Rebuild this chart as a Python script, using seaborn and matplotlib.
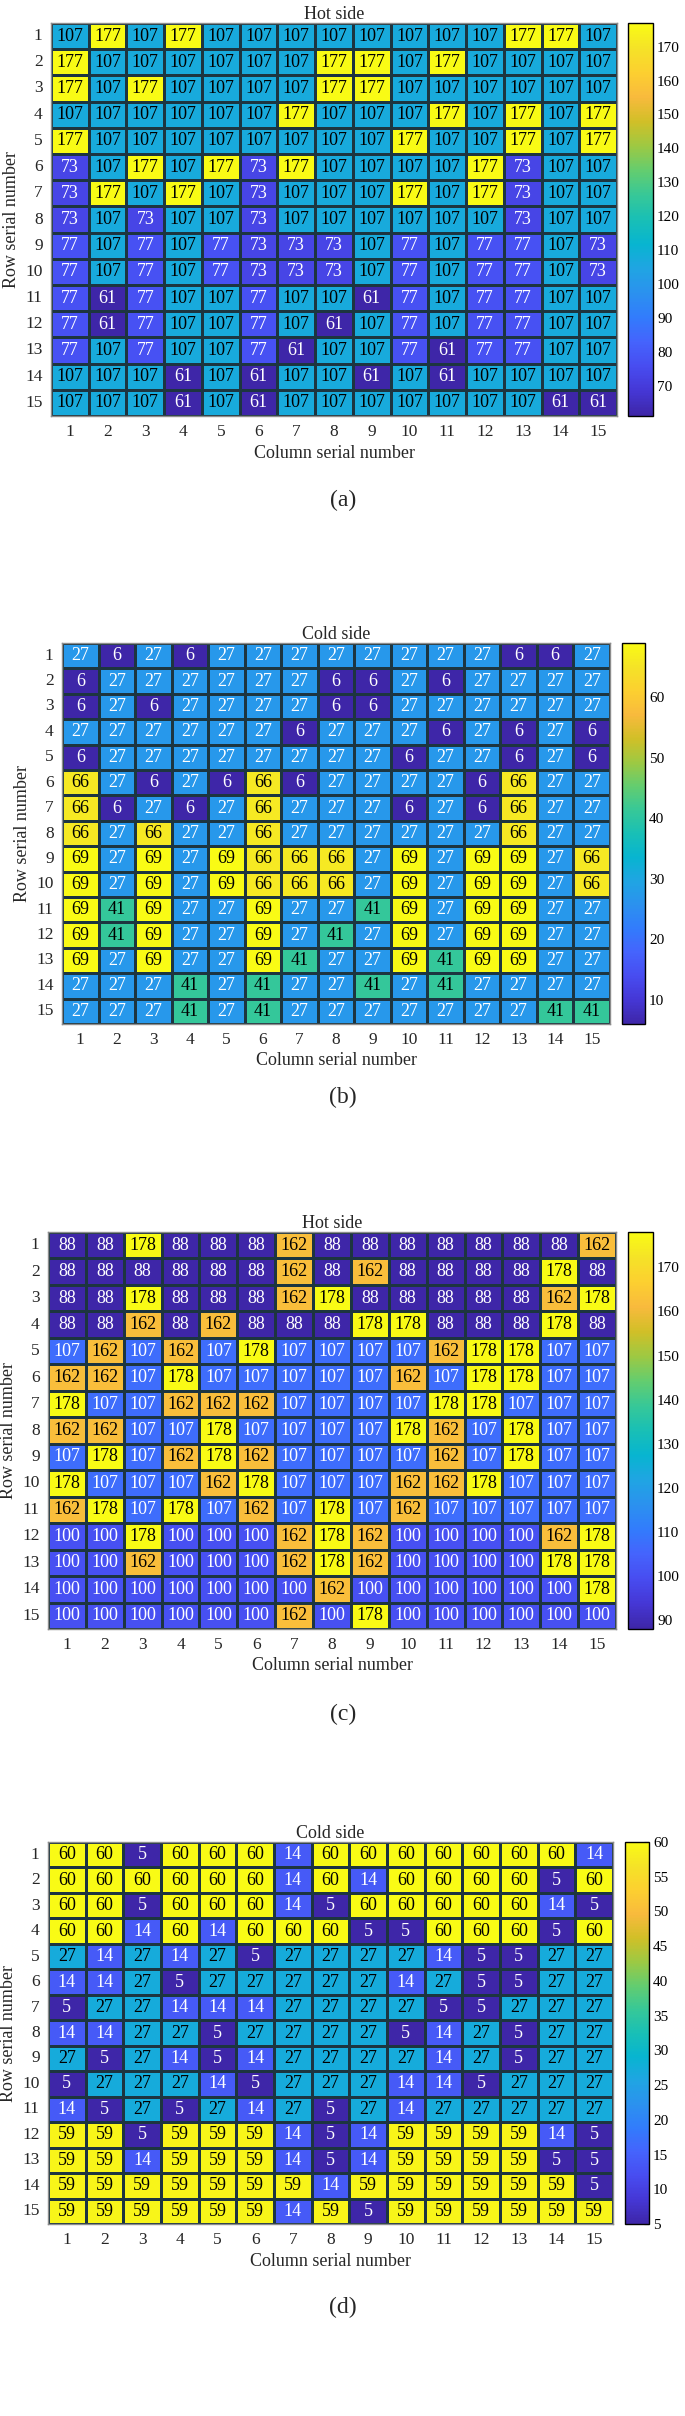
import numpy as np
import pandas as pd
import matplotlib
matplotlib.use('Agg')
import matplotlib.pyplot as plt
import seaborn as sns
from matplotlib.colors import LinearSegmentedColormap

# ---- data (rows 1..15, columns 1..15) ----
rows = list(range(1, 16))
cols = list(range(1, 16))

hot_a = [
    [107, 177, 107, 177, 107, 107, 107, 107, 107, 107, 107, 107, 177, 177, 107],
    [177, 107, 107, 107, 107, 107, 107, 177, 177, 107, 177, 107, 107, 107, 107],
    [177, 107, 177, 107, 107, 107, 107, 177, 177, 107, 107, 107, 107, 107, 107],
    [107, 107, 107, 107, 107, 107, 177, 107, 107, 107, 177, 107, 177, 107, 177],
    [177, 107, 107, 107, 107, 107, 107, 107, 107, 177, 107, 107, 177, 107, 177],
    [73, 107, 177, 107, 177, 73, 177, 107, 107, 107, 107, 177, 73, 107, 107],
    [73, 177, 107, 177, 107, 73, 107, 107, 107, 177, 107, 177, 73, 107, 107],
    [73, 107, 73, 107, 107, 73, 107, 107, 107, 107, 107, 107, 73, 107, 107],
    [77, 107, 77, 107, 77, 73, 73, 73, 107, 77, 107, 77, 77, 107, 73],
    [77, 107, 77, 107, 77, 73, 73, 73, 107, 77, 107, 77, 77, 107, 73],
    [77, 61, 77, 107, 107, 77, 107, 107, 61, 77, 107, 77, 77, 107, 107],
    [77, 61, 77, 107, 107, 77, 107, 61, 107, 77, 107, 77, 77, 107, 107],
    [77, 107, 77, 107, 107, 77, 61, 107, 107, 77, 61, 77, 77, 107, 107],
    [107, 107, 107, 61, 107, 61, 107, 107, 61, 107, 61, 107, 107, 107, 107],
    [107, 107, 107, 61, 107, 61, 107, 107, 107, 107, 107, 107, 107, 61, 61],
]

cold_b = [
    [27, 6, 27, 6, 27, 27, 27, 27, 27, 27, 27, 27, 6, 6, 27],
    [6, 27, 27, 27, 27, 27, 27, 6, 6, 27, 6, 27, 27, 27, 27],
    [6, 27, 6, 27, 27, 27, 27, 6, 6, 27, 27, 27, 27, 27, 27],
    [27, 27, 27, 27, 27, 27, 6, 27, 27, 27, 6, 27, 6, 27, 6],
    [6, 27, 27, 27, 27, 27, 27, 27, 27, 6, 27, 27, 6, 27, 6],
    [66, 27, 6, 27, 6, 66, 6, 27, 27, 27, 27, 6, 66, 27, 27],
    [66, 6, 27, 6, 27, 66, 27, 27, 27, 6, 27, 6, 66, 27, 27],
    [66, 27, 66, 27, 27, 66, 27, 27, 27, 27, 27, 27, 66, 27, 27],
    [69, 27, 69, 27, 69, 66, 66, 66, 27, 69, 27, 69, 69, 27, 66],
    [69, 27, 69, 27, 69, 66, 66, 66, 27, 69, 27, 69, 69, 27, 66],
    [69, 41, 69, 27, 27, 69, 27, 27, 41, 69, 27, 69, 69, 27, 27],
    [69, 41, 69, 27, 27, 69, 27, 41, 27, 69, 27, 69, 69, 27, 27],
    [69, 27, 69, 27, 27, 69, 41, 27, 27, 69, 41, 69, 69, 27, 27],
    [27, 27, 27, 41, 27, 41, 27, 27, 41, 27, 41, 27, 27, 27, 27],
    [27, 27, 27, 41, 27, 41, 27, 27, 27, 27, 27, 27, 27, 41, 41],
]

hot_c = [
    [88, 88, 178, 88, 88, 88, 162, 88, 88, 88, 88, 88, 88, 88, 162],
    [88, 88, 88, 88, 88, 88, 162, 88, 162, 88, 88, 88, 88, 178, 88],
    [88, 88, 178, 88, 88, 88, 162, 178, 88, 88, 88, 88, 88, 162, 178],
    [88, 88, 162, 88, 162, 88, 88, 88, 178, 178, 88, 88, 88, 178, 88],
    [107, 162, 107, 162, 107, 178, 107, 107, 107, 107, 162, 178, 178, 107, 107],
    [162, 162, 107, 178, 107, 107, 107, 107, 107, 162, 107, 178, 178, 107, 107],
    [178, 107, 107, 162, 162, 162, 107, 107, 107, 107, 178, 178, 107, 107, 107],
    [162, 162, 107, 107, 178, 107, 107, 107, 107, 178, 162, 107, 178, 107, 107],
    [107, 178, 107, 162, 178, 162, 107, 107, 107, 107, 162, 107, 178, 107, 107],
    [178, 107, 107, 107, 162, 178, 107, 107, 107, 162, 162, 178, 107, 107, 107],
    [162, 178, 107, 178, 107, 162, 107, 178, 107, 162, 107, 107, 107, 107, 107],
    [100, 100, 178, 100, 100, 100, 162, 178, 162, 100, 100, 100, 100, 162, 178],
    [100, 100, 162, 100, 100, 100, 162, 178, 162, 100, 100, 100, 100, 178, 178],
    [100, 100, 100, 100, 100, 100, 100, 162, 100, 100, 100, 100, 100, 100, 178],
    [100, 100, 100, 100, 100, 100, 162, 100, 178, 100, 100, 100, 100, 100, 100],
]

cold_d = [
    [60, 60, 5, 60, 60, 60, 14, 60, 60, 60, 60, 60, 60, 60, 14],
    [60, 60, 60, 60, 60, 60, 14, 60, 14, 60, 60, 60, 60, 5, 60],
    [60, 60, 5, 60, 60, 60, 14, 5, 60, 60, 60, 60, 60, 14, 5],
    [60, 60, 14, 60, 14, 60, 60, 60, 5, 5, 60, 60, 60, 5, 60],
    [27, 14, 27, 14, 27, 5, 27, 27, 27, 27, 14, 5, 5, 27, 27],
    [14, 14, 27, 5, 27, 27, 27, 27, 27, 14, 27, 5, 5, 27, 27],
    [5, 27, 27, 14, 14, 14, 27, 27, 27, 27, 5, 5, 27, 27, 27],
    [14, 14, 27, 27, 5, 27, 27, 27, 27, 5, 14, 27, 5, 27, 27],
    [27, 5, 27, 14, 5, 14, 27, 27, 27, 27, 14, 27, 5, 27, 27],
    [5, 27, 27, 27, 14, 5, 27, 27, 27, 14, 14, 5, 27, 27, 27],
    [14, 5, 27, 5, 27, 14, 27, 5, 27, 14, 27, 27, 27, 27, 27],
    [59, 59, 5, 59, 59, 59, 14, 5, 14, 59, 59, 59, 59, 14, 5],
    [59, 59, 14, 59, 59, 59, 14, 5, 14, 59, 59, 59, 59, 5, 5],
    [59, 59, 59, 59, 59, 59, 59, 14, 59, 59, 59, 59, 59, 59, 5],
    [59, 59, 59, 59, 59, 59, 14, 59, 5, 59, 59, 59, 59, 59, 59],
]

titles = ['Hot side', 'Cold side', 'Hot side', 'Cold side']
panel_tags = ['(a)', '(b)', '(c)', '(d)']
cbar_ticks = [
    list(range(70, 171, 10)),
    list(range(10, 61, 10)),
    list(range(90, 171, 10)),
    list(range(5, 61, 5)),
]

# MATLAB-like parula colormap
parula_pts = [
    (0.2422, 0.1504, 0.6603), (0.2706, 0.2147, 0.8364), (0.2813, 0.3006, 0.9414),
    (0.2699, 0.3892, 0.9906), (0.1963, 0.4847, 0.9892), (0.1687, 0.5703, 0.9359),
    (0.1248, 0.6459, 0.8883), (0.0297, 0.7082, 0.8163), (0.0964, 0.7500, 0.7120),
    (0.2161, 0.7843, 0.5923), (0.3909, 0.8029, 0.4354), (0.6174, 0.7876, 0.2612),
    (0.8203, 0.7498, 0.1535), (0.9728, 0.7298, 0.2394), (0.9892, 0.8136, 0.1885),
    (0.9610, 0.8890, 0.1537), (0.9769, 0.9839, 0.0805),
]
parula = LinearSegmentedColormap.from_list('parula', parula_pts)

sns.set_theme(style='white')
plt.rcParams['font.family'] = ['Liberation Serif', 'DejaVu Serif']

W, H = 685, 2416
fig = plt.figure(figsize=(W / 100, H / 100), dpi=100)

# pixel boxes: heatmap (left, right, top, bottom), colorbar (left, right), tag y
boxes = [
    ((51, 617, 23, 416), (628, 653), 500),
    ((62, 610, 643, 1024), (622, 645), 1097),
    ((48, 616, 1232, 1629), (628, 653), 1714),
    ((48, 613, 1842, 2224), (625, 649), 2307),
]

datasets = [hot_a, cold_b, hot_c, cold_d]

for data, title, tag, ticks, (hm, cb, tag_y) in zip(datasets, titles, panel_tags, cbar_ticks, boxes):
    l, r, t, b = hm
    ax = fig.add_axes([l / W, 1 - b / H, (r - l) / W, (b - t) / H])
    cax = fig.add_axes([cb[0] / W, 1 - b / H, (cb[1] - cb[0]) / W, (b - t) / H])

    df = pd.DataFrame(data, index=rows, columns=cols)
    vmin, vmax = df.values.min(), df.values.max()
    sns.heatmap(df, ax=ax, cbar_ax=cax, cmap=parula, vmin=vmin, vmax=vmax,
                annot=True, fmt='d', linewidths=0.9, linecolor='#1d3540',
                annot_kws={'fontsize': 13}, cbar_kws={'ticks': ticks})

    # text colour like the original: dark on bright cells
    flat = df.values.flatten()
    for txt, v in zip(ax.texts, flat):
        frac = (v - vmin) / (vmax - vmin)
        txt.set_color('black' if frac > 0.36 else 'white')

    for sp in ax.spines.values():
        sp.set_visible(True)
        sp.set_color('#8c8c8c')
        sp.set_linewidth(1.0)

    ax.set_title(title, fontsize=13, pad=3)
    ax.set_xlabel('Column serial number', fontsize=13, labelpad=3)
    ax.set_ylabel('Row serial number', fontsize=13, labelpad=4)
    ax.tick_params(axis='both', length=0, pad=6, labelsize=12.5)
    ax.set_yticklabels(rows, rotation=0)
    ax.set_xticklabels(cols, rotation=0)

    cax.tick_params(labelsize=11, length=3.5, width=0.8, direction='in', pad=3,
                    colors='black')
    cbar = ax.collections[0].colorbar
    cbar.outline.set_edgecolor('black')
    cbar.outline.set_linewidth(1.0)

    fig.text(343 / W, 1 - tag_y / H, tag, fontsize=17, ha='center', va='center')

fig.savefig('out.png', dpi=100, facecolor='white')
